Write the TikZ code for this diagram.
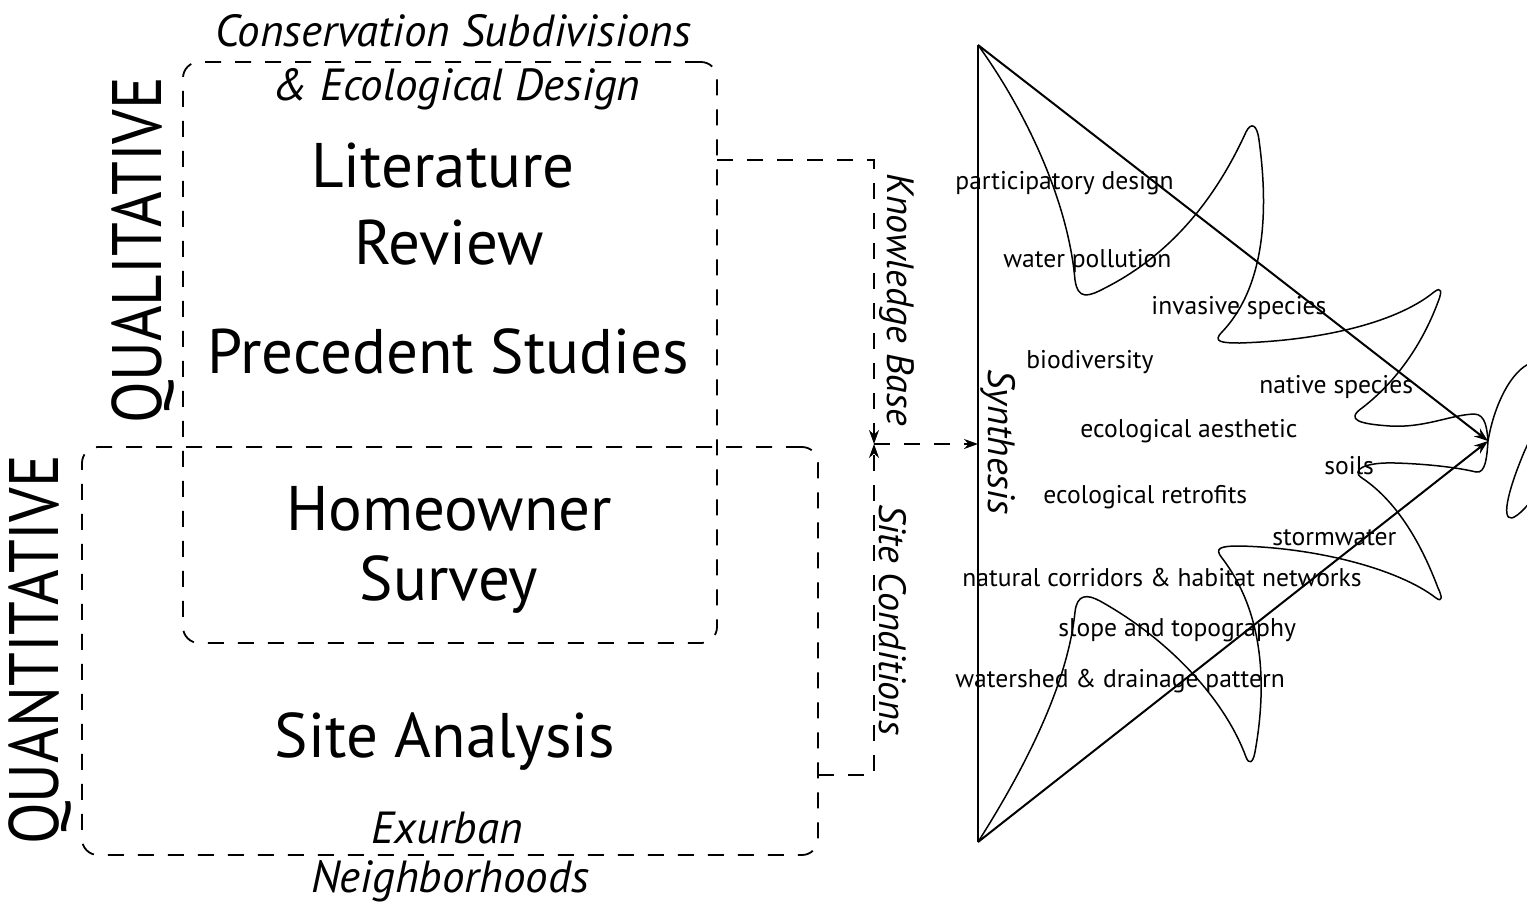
\documentclass[tikz,border=0pt]{standalone}
\usepackage{fontspec}
\setmainfont{PT Sans}
\usetikzlibrary{arrows.meta,positioning}

\begin{document}
\begin{tikzpicture}[
    x=0.5pt, y=-0.5pt,
    frame/.style={draw, dash pattern=on 8pt off 7pt, line width=0.9pt, rounded corners=8pt, inner sep=0pt, outer sep=0pt},
    link/.style={dash pattern=on 8pt off 7pt, line width=0.9pt},
    tip/.style={-{Stealth[length=7pt, width=5pt]}},
    bigtxt/.style={font=\fontsize{31.5}{36}\selectfont, inner sep=0pt, anchor=base},
    captxt/.style={font=\fontsize{35}{40}\selectfont, rotate=90, inner sep=0pt},
    notetxt/.style={font=\fontsize{22.5}{26}\selectfont\itshape, inner sep=0pt, anchor=base},
    sidetxt/.style={font=\fontsize{19}{22}\selectfont\itshape, inner sep=0pt, rotate=-90},
    topic/.style={font=\fontsize{12.8}{15}\selectfont, inner sep=0pt, anchor=west},
    loopline/.style={line width=0.75pt, line join=round},
    axis/.style={line width=1pt}
]
\path[use as bounding box, fill=white] (0,0) rectangle (1527,905);

% method boxes
\node[frame, minimum width=267pt, minimum height=290.5pt] (qual) at (450,352.5) {};
\node[frame, minimum width=368pt, minimum height=204pt] (quant) at (450,651) {};

\node[captxt] (qualcap) at (143,250) {\scalebox{0.87}[1]{QUALITATIVE}};
\node[captxt] (quantcap) at (40,650) {\scalebox{0.87}[1]{QUANTITATIVE}};

\node[notetxt] (cons) at (453,46) {Conservation Subdivisions};
\node[notetxt] (ecod) at (457,100) {\& Ecological Design};
\node[bigtxt] (lit) at (443,187) {Literature};
\node[bigtxt] (rev) at (449,264) {Review};
\node[bigtxt] (prec) at (448,373) {Precedent Studies};
\node[bigtxt] (home) at (449,530) {Homeowner};
\node[bigtxt] (surv) at (449,600) {Survey};
\node[bigtxt] (site) at (445,757) {Site Analysis};
\node[notetxt] (exu) at (447,843) {Exurban};
\node[notetxt] (neigh) at (450,892) {Neighborhoods};

% feeds into synthesis
\coordinate (kbturn) at (874,160);
\coordinate (scturn) at (874,775);
\coordinate (meet) at (874,444);
\node[sidetxt] (kb) at (897,300) {Knowledge Base};
\node[sidetxt] (sc) at (893,620) {Site Conditions};
\draw[link, tip] (qual.east |- kbturn) -- (kbturn) -- (meet);
\draw[link, tip] (quant.east |- scturn) -- (scturn) -- (meet);

% synthesis triangle
\coordinate (top) at (978,45);
\coordinate (bot) at (978,842);
\coordinate (apex) at (1488,441);
\draw[link, tip] (meet) -- (meet -| top);
\draw[axis] (top) -- (bot);
\node[sidetxt] (syn) at (998,442) {Synthesis};
\draw[axis, tip] (top) -- (apex);
\draw[axis, tip] (bot) -- (apex);

\begin{scope}
\clip (0,0) rectangle (1527,905);
\draw[loopline] (top) .. controls (1025,110) and (1068,200) .. (1075,280)
  .. controls (1078,300) and (1088,297) .. (1105,288)
  .. controls (1170,255) and (1215,200) .. (1246,132)
  .. controls (1251,122) and (1257,124) .. (1259,140)
  .. controls (1270,220) and (1262,290) .. (1222,332)
  .. controls (1212,342) and (1222,343) .. (1240,343)
  .. controls (1330,340) and (1400,320) .. (1434,292)
  .. controls (1442,286) and (1442,292) .. (1438,302)
  .. controls (1420,350) and (1392,385) .. (1362,408)
  .. controls (1345,420) and (1360,424) .. (1390,426)
  .. controls (1425,428) and (1450,415) .. (1474,414)
  .. controls (1486,414) and (1487,430) .. (apex);
\draw[loopline] (bot) .. controls (1030,760) and (1068,680) .. (1075,612)
  .. controls (1077,594) and (1087,594) .. (1100,601)
  .. controls (1170,640) and (1225,700) .. (1246,757)
  .. controls (1249,765) and (1253,763) .. (1255,752)
  .. controls (1268,680) and (1262,610) .. (1222,558)
  .. controls (1214,548) and (1220,546) .. (1240,546)
  .. controls (1320,548) and (1400,570) .. (1436,598)
  .. controls (1443,603) and (1442,596) .. (1438,588)
  .. controls (1420,540) and (1395,500) .. (1362,478)
  .. controls (1350,470) and (1365,462) .. (1395,463)
  .. controls (1430,464) and (1460,468) .. (1476,472)
  .. controls (1486,474) and (1487,455) .. (apex);
\draw[loopline] (apex) .. controls (1495,400) and (1515,365) .. (1535,362)
  .. controls (1555,360) and (1540,420) .. (1525,450)
  .. controls (1510,485) and (1500,520) .. (1512,518)
  .. controls (1520,515) and (1528,505) .. (1540,490);
\end{scope}

% topics
\node[topic] (part) at (955,183) {participatory design};
\node[topic] (wpol) at (1003,261) {water pollution};
\node[topic] (inv) at (1151,308) {invasive species};
\node[topic] (bio) at (1026,362) {biodiversity};
\node[topic] (nat) at (1259,387) {native species};
\node[topic] (aes) at (1080,431) {ecological aesthetic};
\node[topic] (soil) at (1324,466) {soils};
\node[topic] (retro) at (1043,497) {ecological retrofits};
\node[topic] (storm) at (1272,538) {stormwater};
\node[topic] (corr) at (962,578) {natural corridors \& habitat networks};
\node[topic] (slope) at (1058,630) {slope and topography};
\node[topic] (wsh) at (955,681) {watershed \& drainage pattern};
\end{tikzpicture}
\end{document}
